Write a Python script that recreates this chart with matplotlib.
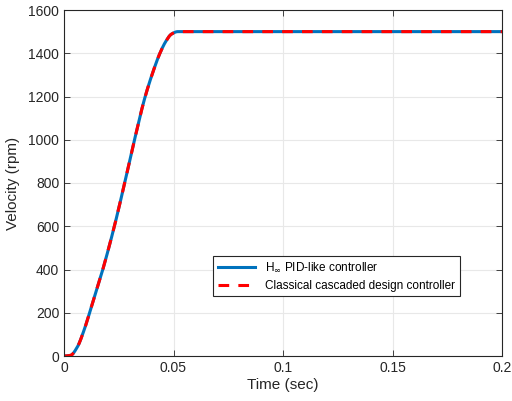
import matplotlib
matplotlib.use("Agg")
import matplotlib.pyplot as plt
import numpy as np

plt.rcParams['font.family'] = ['Liberation Sans', 'DejaVu Sans']

t_hinf = [0, 0.003, 0.006, 0.009, 0.012, 0.018, 0.023, 0.0277, 0.0322, 0.0368, 0.0405, 0.0438, 0.0465, 0.049, 0.052, 0.2]
v_hinf = [0, 3, 40, 115, 210, 410, 600, 800, 1000, 1190, 1310, 1400, 1455, 1488, 1500, 1500]
t_class = [0, 0.003, 0.006, 0.009, 0.012, 0.018, 0.023, 0.0277, 0.0322, 0.0368, 0.0405, 0.0438, 0.0465, 0.049, 0.052, 0.2]
v_class = [0, 3, 40, 115, 210, 410, 600, 800, 1000, 1190, 1310, 1400, 1455, 1488, 1500, 1500]
xticks = [0, 0.05, 0.1, 0.15, 0.2]
xticklabels = ['0', '0.05', '0.1', '0.15', '0.2']
yticks = [0, 200, 400, 600, 800, 1000, 1200, 1400, 1600]

fig = plt.figure(figsize=(5.12, 4.01), dpi=100)
ax = fig.add_axes([64/512, 1-356/401, 438/512, 346/401])

def smooth(t, v):
    # monotone cubic (PCHIP) interpolation between the read points
    t = np.asarray(t, float); v = np.asarray(v, float)
    tt = np.linspace(t[0], t[-1], 4000)
    h = np.diff(t); d = np.diff(v) / h
    m = np.zeros_like(v)
    for k in range(1, len(v)-1):
        if d[k-1]*d[k] > 0:
            w1 = 2*h[k] + h[k-1]; w2 = h[k] + 2*h[k-1]
            m[k] = (w1 + w2) / (w1/d[k-1] + w2/d[k])
    m[0] = 0; m[-1] = 0
    idx = np.clip(np.searchsorted(t, tt) - 1, 0, len(t)-2)
    x0 = t[idx]; hh = h[idx]; s = (tt - x0) / hh
    h00 = 2*s**3 - 3*s**2 + 1; h10 = s**3 - 2*s**2 + s
    h01 = -2*s**3 + 3*s**2; h11 = s**3 - s**2
    vv = h00*v[idx] + h10*hh*m[idx] + h01*v[idx+1] + h11*hh*m[idx+1]
    return tt, vv

tb, vb = smooth(t_hinf, v_hinf)
tr, vr = smooth(t_class, v_class)
ax.plot(tb, vb, color=(0, 0.447, 0.741), lw=2.2, label=r'H$_{\infty}$ PID-like controller')
ax.plot(tr, vr, color=(1, 0, 0), lw=2.2, ls=(0, (3.5, 3)), label='Classical cascaded design controller')

ax.set_xlim(0, 0.2)
ax.set_ylim(0, 1600)
ax.set_xticks(xticks)
ax.set_xticklabels(xticklabels)
ax.set_yticks(yticks)
ax.grid(True, color=(0.91, 0.91, 0.91), lw=0.8)
ax.set_axisbelow(True)
for sp in ax.spines.values():
    sp.set_color((0.15, 0.15, 0.15))
    sp.set_linewidth(0.8)
ax.tick_params(direction='in', top=True, right=True, labelsize=10, colors=(0.15, 0.15, 0.15), length=4, width=0.6)
ax.set_xlabel('Time (sec)', fontsize=11, color=(0.15, 0.15, 0.15), labelpad=2)
ax.set_ylabel('Velocity (rpm)', fontsize=11, color=(0.15, 0.15, 0.15), labelpad=6)

leg = ax.legend(loc='upper left', bbox_to_anchor=((207-64)/438, (356-250)/346), fontsize=8.5,
                frameon=True, fancybox=False, edgecolor=(0.15, 0.15, 0.15), framealpha=1,
                handlelength=3.2, borderpad=0.4, labelspacing=0.5)
leg.get_frame().set_linewidth(0.8)

fig.savefig('out.png', dpi=100)
